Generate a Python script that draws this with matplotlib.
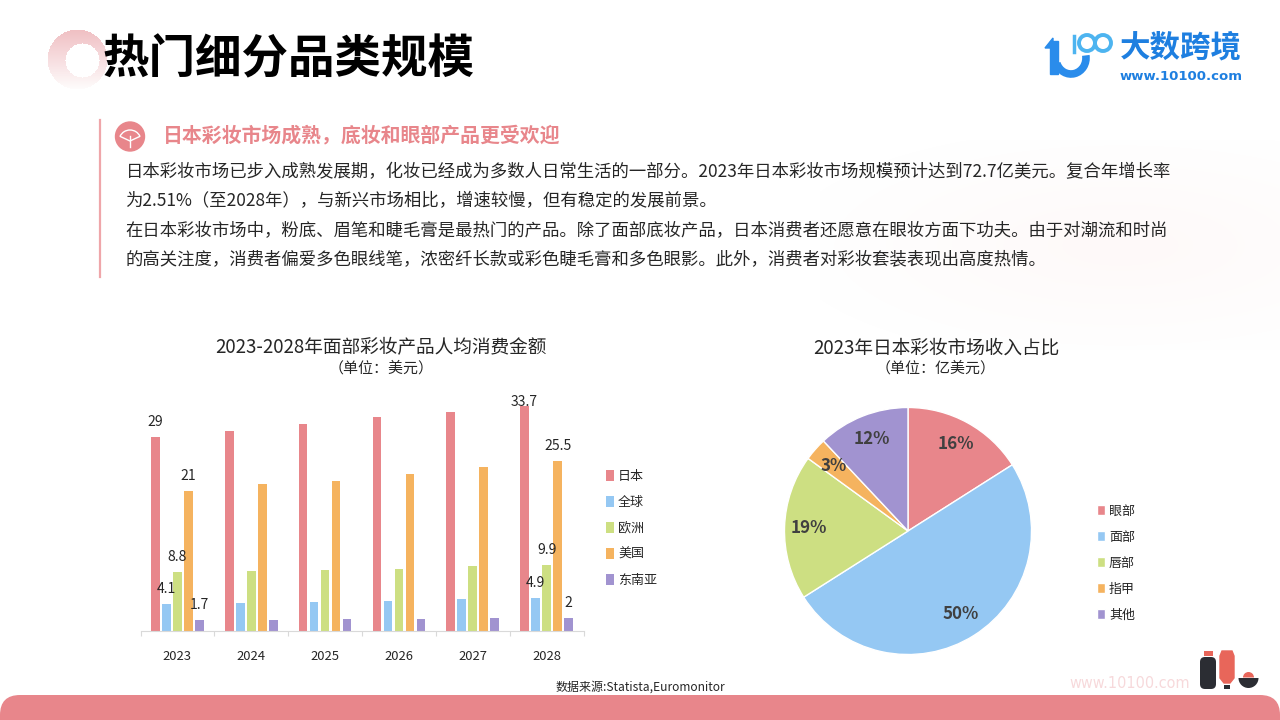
import numpy as np
import matplotlib
matplotlib.use("Agg")
import matplotlib.pyplot as plt
from matplotlib.patches import Circle, Rectangle, FancyBboxPatch, Wedge, Arc

plt.rcParams['font.family'] = ['Noto Sans CJK SC', 'DejaVu Sans']

W, H = 1280, 720
PINK = '#E8868B'
TEXT = '#262626'

# bar chart data
years = ['2023', '2024', '2025', '2026', '2027', '2028']
regions = ['日本', '全球', '欧洲', '美国', '东南亚']
japan = [29, 30, 31, 32, 32.8, 33.7]
world = [4.1, 4.2, 4.4, 4.5, 4.75, 4.9]
europe = [8.8, 9.0, 9.1, 9.3, 9.8, 9.9]
usa = [21, 22, 22.5, 23.5, 24.5, 25.5]
sea = [1.7, 1.7, 1.8, 1.8, 1.9, 2]
labelled_years = [0, 5]
region_colors = ['#E8868B', '#95C8F3', '#CDDF82', '#F5B35F', '#A193D0']

# pie data
parts = ['眼部', '面部', '唇部', '指甲', '其他']
shares = [16, 50, 19, 3, 12]

title = '热门细分品类规模'
heading = '日本彩妆市场成熟，底妆和眼部产品更受欢迎'
body = [
    '日本彩妆市场已步入成熟发展期，化妆已经成为多数人日常生活的一部分。2023年日本彩妆市场规模预计达到72.7亿美元。复合年增长率',
    '为2.51%（至2028年），与新兴市场相比，增速较慢，但有稳定的发展前景。',
    '在日本彩妆市场中，粉底、眉笔和睫毛膏是最热门的产品。除了面部底妆产品，日本消费者还愿意在眼妆方面下功夫。由于对潮流和时尚',
    '的高关注度，消费者偏爱多色眼线笔，浓密纤长款或彩色睫毛膏和多色眼影。此外，消费者对彩妆套装表现出高度热情。',
]


def px(size):
    return size * 0.72


def px_axes(x0, y0, x1, y1):
    return fig.add_axes([x0 / W, 1 - y1 / H, (x1 - x0) / W, (y1 - y0) / H])


fig = plt.figure(figsize=(12.8, 7.2), dpi=100, facecolor='white')

# page layer in pixel coordinates
bg = fig.add_axes([0, 0, 1, 1], zorder=0)
bg.axis('off')

# faint soft blob on the right
by, bx = np.mgrid[140:350, 820:1280]
blob = np.zeros((210, 460, 4))
blob[..., :3] = matplotlib.colors.to_rgb('#F9DEDC')
blob[..., 3] = 0.16 * np.clip(1.15 - np.hypot((bx - 1120) / 300, (by - 245) / 105), 0, 1)
bg.imshow(blob, extent=(820, 1280, 350, 140), zorder=0, interpolation='bilinear', aspect='auto')

# gradient ring behind the title
yy, xx = np.mgrid[0:70, 0:70]
rr = np.hypot(xx - 30, yy - 30)
rr2 = np.hypot(xx - 35, yy - 31)
ring = np.zeros((70, 70, 4))
ring[..., :3] = matplotlib.colors.to_rgb('#EDB4B8')
ring[..., 3] = ((rr < 30) & (rr2 > 17)) * np.clip(0.85 - yy / 74, 0, 1)
bg.imshow(ring, extent=(47, 117, 99, 29), zorder=1, interpolation='bilinear', aspect='auto')
bg.set_xlim(0, W)
bg.set_ylim(H, 0)

bg.text(102, 59, title, fontsize=px(46.5), fontweight='bold', color='black', va='center', ha='left', zorder=3)

# logo
blue = '#2A8CEB'
light = '#4DB4F0'
bg.add_patch(Rectangle((1050, 41), 8, 33, color=blue, zorder=2))
bg.fill([1045, 1053, 1053], [48, 38, 48], color=blue, zorder=2)
bg.add_patch(Arc((1071, 58), 30, 32, theta1=-10, theta2=160, lw=5.5, color=blue, zorder=2))
bg.plot([1074, 1074], [36, 52], color=light, lw=2.5, zorder=2)
bg.add_patch(Circle((1087, 43), 8, fc='none', ec=light, lw=2.8, zorder=2))
bg.add_patch(Circle((1103, 43), 8, fc='none', ec=light, lw=2.8, zorder=2))
bg.text(1181, 47, '大数跨境', fontsize=px(30.5), fontweight='bold', color='#1E7FE0', ha='center', va='center')
bg.text(1181, 77, 'www.10100.com', fontsize=px(13.3), fontweight='bold', color='#1E7FE0',
        family='DejaVu Sans', ha='center', va='center')

# text block
bg.plot([100, 100], [120, 277], color='#EFA6AA', lw=1.6, zorder=2)
bg.add_patch(Circle((130, 136.5), 14.5, color=PINK, zorder=2))
bg.add_patch(Wedge((130, 141), 11, 205, 335, fc='none', ec='white', lw=1, zorder=3))
bg.plot([130, 130], [136, 147], color='white', lw=1, zorder=3)
bg.text(163, 135, heading, fontsize=px(19.9), fontweight='bold', color=PINK, va='center', ha='left')
for y, line in zip([172, 201, 230, 259], body):
    bg.text(125.5, y, line, fontsize=px(17.35), color=TEXT, va='center', ha='left')

# chart titles
bg.text(381, 348, '2023-2028年面部彩妆产品人均消费金额', fontsize=px(18.7), color=TEXT, ha='center', va='center')
bg.text(381, 368, '（单位：美元）', fontsize=px(15), color=TEXT, ha='center', va='center')
bg.text(936, 348, '2023年日本彩妆市场收入占比', fontsize=px(18.7), color=TEXT, ha='center', va='center')
bg.text(936, 368, '（单位：亿美元）', fontsize=px(15), color=TEXT, ha='center', va='center')

# footer
bg.text(640, 687, '数据来源:Statista,Euromonitor', fontsize=px(12), color=TEXT, ha='center', va='center')
bg.text(1130, 683, 'www.10100.com', fontsize=px(14.5), color='#F7D9DB', family='DejaVu Sans', ha='center', va='center')
bg.add_patch(FancyBboxPatch((0, 695), W, 60, boxstyle='round,pad=0,rounding_size=20', fc=PINK, ec='none', zorder=1))

# bottles
bg.add_patch(FancyBboxPatch((1200, 657), 16, 32, boxstyle='round,pad=0,rounding_size=5', fc='#2B2D33', ec='none', zorder=2))
bg.add_patch(Rectangle((1203.5, 651), 9, 4.5, fc='#E8665A', ec='none', zorder=2))
bg.fill([1222, 1232, 1234, 1234, 1230, 1224, 1220, 1220], [651, 651, 656, 678, 683, 683, 678, 656], color='#E8665A', zorder=2)
bg.add_patch(Rectangle((1224, 685), 6, 4, fc='#2B2D33', ec='none', zorder=2))
bg.add_patch(Wedge((1248.5, 678), 10, 0, 180, fc='#2B2D33', ec='none', zorder=2))
bg.add_patch(Wedge((1248.5, 677.5), 5.5, 180, 360, fc='#E8665A', ec='none', zorder=2))

# bars
ax = px_axes(140.5, 631 - 35 * 6.68, 583.5, 631)
ax.patch.set_alpha(0)
x = np.arange(len(years))
series = [japan, world, europe, usa, sea]
bar_w = 0.117
step = 0.149
for i, vals in enumerate(series):
    pos = x + (i - 2) * step
    ax.bar(pos, vals, bar_w, color=region_colors[i], label=regions[i])
    for j in labelled_years:
        # the top label of the tallest bar is pushed down by the plot edge
        off = 3.5 if vals[j] == 33.7 else 15
        ax.annotate(str(vals[j]), (pos[j], vals[j]), xytext=(0, px(off)), textcoords='offset points',
                    ha='center', va='center', fontsize=px(14), color=TEXT, annotation_clip=False)
ax.set_xlim(-0.5, 5.5)
ax.set_ylim(0, 35)
ax.set_yticks([])
for s in ['top', 'left', 'right']:
    ax.spines[s].set_visible(False)
ax.spines['bottom'].set_color('#D9D9D9')
ax.set_xticks(np.arange(-0.5, 6), labels=[''] * 7)
ax.set_xticks(x, labels=years, minor=True)
ax.tick_params(axis='x', which='major', length=3.5, color='#D9D9D9')
ax.tick_params(axis='x', which='minor', length=0, pad=13.5, labelsize=px(13), labelcolor=TEXT)
ax.legend(loc='upper left', bbox_to_anchor=(606 / W, 1 - 470 / H), bbox_transform=fig.transFigure,
          frameon=False, fontsize=px(13), handlelength=0.62, handleheight=0.9, handletextpad=0.3,
          labelspacing=1.0, borderpad=0, borderaxespad=0, labelcolor=TEXT)

# pie
pie_ax = px_axes(908 - 129.7, 531 - 129.7, 908 + 129.7, 531 + 129.7)
wedges, _, autotexts = pie_ax.pie(shares, colors=region_colors, startangle=90, counterclock=False, radius=1,
                                  autopct='%d%%', pctdistance=0.8, labels=None,
                                  wedgeprops=dict(edgecolor='white', linewidth=1),
                                  textprops=dict(fontsize=px(17), color='#404040', fontweight='bold'))
pie_ax.set_xlim(-1.05, 1.05)
pie_ax.set_ylim(-1.05, 1.05)
fig.legend(wedges, parts, loc='upper left', bbox_to_anchor=(1097 / W, 1 - 504.5 / H), frameon=False,
           fontsize=px(13), handlelength=0.62, handleheight=0.9, handletextpad=0.3,
           labelspacing=1.0, borderpad=0, borderaxespad=0, labelcolor=TEXT)

fig.savefig('out.png', dpi=100)
